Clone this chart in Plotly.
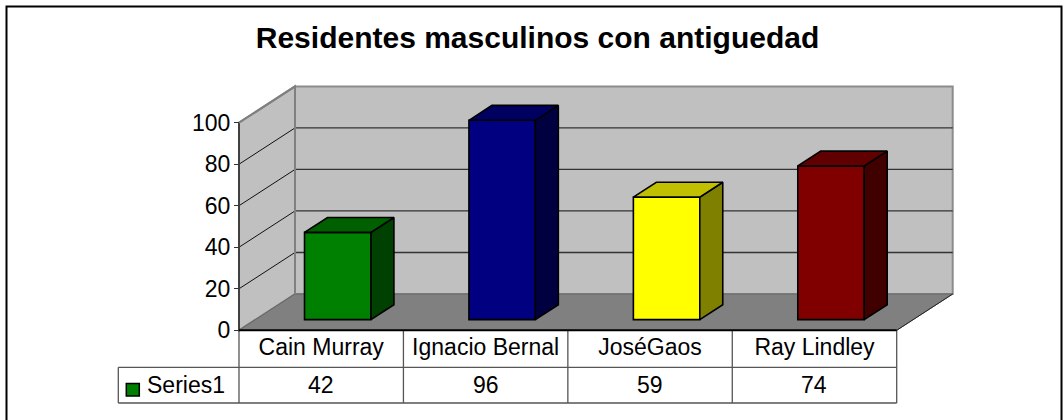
import plotly.graph_objects as go

# Data
categories = ["Cain Murray", "Ignacio Bernal", "JoséGaos", "Ray Lindley"]
values = [42, 96, 59, 74]
series_name = "Series1"
title_text = "Residentes masculinos con antiguedad"
y_ticks = [0, 20, 40, 60, 80, 100]

front_colors = ["#008000", "#000080", "#FFFF00", "#800000"]
top_colors = ["#006000", "#000060", "#C0C000", "#600000"]
side_colors = ["#004000", "#000040", "#808000", "#400000"]

# Geometry
W, H = 1063, 420
X0, XSCALE = 239.0, 164.425      # px of category 0, px per category
Y0, YSCALE = 330.3, 2.076        # px of value 0, px per value unit
DEPTH_X = 56 / XSCALE            # depth projection in category units
DEPTH_Y = 36.3 / YSCALE          # depth projection in value units
BAR_W = 0.404
D0, D1 = 0.295, 0.705
N = len(categories)
YMAX = y_ticks[-1]
ROW1 = -(367.3 - Y0) / YSCALE    # table rows expressed in value units
ROW2 = -(403.0 - Y0) / YSCALE
LEGEND_L = -(239 - 118.3) / XSCALE


def proj(x, v, d):
    return x + d * DEPTH_X, v + d * DEPTH_Y


def poly(points):
    return "M" + " L".join(f"{x},{y}" for x, y in points) + " Z"


shapes = []


def add_poly(points, fill, line, width=1.5):
    shapes.append(dict(type="path", path=poly(points), xref="x", yref="y",
                       fillcolor=fill, line=dict(color=line, width=width), layer="below"))


def add_line(p, q, color, width=1.0, layer="below"):
    shapes.append(dict(type="line", x0=p[0], y0=p[1], x1=q[0], y1=q[1], xref="x", yref="y",
                       line=dict(color=color, width=width), layer=layer))


# Walls and floor
add_poly([proj(0, 0, 1), proj(N, 0, 1), proj(N, YMAX, 1), proj(0, YMAX, 1)], "#C0C0C0", "#8C8C8C", 2)
add_poly([proj(0, 0, 0), proj(0, 0, 1), proj(0, YMAX, 1), proj(0, YMAX, 0)], "#C0C0C0", "#808080", 2)
add_poly([proj(0, 0, 0), proj(N, 0, 0), proj(N, 0, 1), proj(0, 0, 1)], "#808080", "#666666", 1)

# Gridlines
for t in y_ticks[1:-1]:
    add_line(proj(0, t, 0), proj(0, t, 1), "#111111", 1)
    add_line(proj(0, t, 1), proj(N, t, 1), "#333333", 1.3)
add_line(proj(N, 0, 0), proj(N, 0, 1), "#222222", 1)
add_line(proj(0, 0, 0), proj(0, YMAX, 0), "#404040", 2)
add_line(proj(0, YMAX, 0), proj(0, YMAX, 1), "#808080", 2)
add_line(proj(0, 0, 1), proj(0, YMAX, 1), "#808080", 2)

# Data table
TABLE = "#555555"
for i in range(N + 1):
    add_line((i, 0), (i, ROW2), TABLE, 1.3)
add_line((LEGEND_L, ROW1), (N, ROW1), TABLE, 1.3)
add_line((LEGEND_L, ROW2), (N, ROW2), TABLE, 1.3)
add_line((LEGEND_L, ROW1), (LEGEND_L, ROW2), TABLE, 1.3)
add_line((0, 0), (N, 0), "#000000", 2)

# Legend key
shapes.append(dict(type="rect", xref="x", yref="y",
                   x0=LEGEND_L + 8 / XSCALE, x1=LEGEND_L + 21 / XSCALE,
                   y0=ROW2 + 7 / YSCALE, y1=ROW2 + 19.5 / YSCALE,
                   fillcolor=front_colors[0], line=dict(color="#000000", width=1.5)))

# Chart frame (runs past the bottom of the page)
shapes.append(dict(type="rect", xref="paper", yref="paper",
                   x0=6.5 / W, x1=1061.5 / W, y0=-0.02, y1=1 - 6.5 / H,
                   line=dict(color="#000000", width=2), fillcolor="rgba(0,0,0,0)"))

fig = go.Figure()

# Front faces
centers = [i + 0.5 + D0 * DEPTH_X for i in range(N)]
bases = [D0 * DEPTH_Y] * N
fig.add_trace(go.Bar(x=centers, y=values, base=bases, width=BAR_W,
                     marker=dict(color=front_colors, line=dict(color="#000000", width=1.6)),
                     name=series_name, showlegend=False, hoverinfo="skip"))

# Side and top faces
for i, v in enumerate(values):
    c = i + 0.5
    l, r = c - BAR_W / 2, c + BAR_W / 2
    side = [proj(r, 0, D0), proj(r, 0, D1), proj(r, v, D1), proj(r, v, D0), proj(r, 0, D0)]
    top = [proj(l, v, D0), proj(r, v, D0), proj(r, v, D1), proj(l, v, D1), proj(l, v, D0)]
    for pts, col in ((side, side_colors[i]), (top, top_colors[i])):
        fig.add_trace(go.Scatter(x=[p[0] for p in pts], y=[p[1] for p in pts], mode="lines",
                                 fill="toself", fillcolor=col,
                                 line=dict(color="#000000", width=1.6),
                                 showlegend=False, hoverinfo="skip"))

FONT = "Liberation Sans, Arial, sans-serif"
annotations = [dict(x=i + 0.5, y=(ROW1 + ROW2) / 2, xref="x", yref="y", text=str(v),
                    showarrow=False, font=dict(family=FONT, size=23, color="#000000"))
               for i, v in enumerate(values)]
annotations.append(dict(x=LEGEND_L + 27 / XSCALE, y=(ROW1 + ROW2) / 2, xref="x", yref="y",
                        text=series_name, showarrow=False, xanchor="left",
                        font=dict(family=FONT, size=23, color="#000000")))

fig.update_layout(
    width=W, height=H, autosize=False,
    margin=dict(l=0, r=0, t=0, b=0, pad=0),
    paper_bgcolor="#FFFFFF", plot_bgcolor="#FFFFFF",
    showlegend=False, shapes=shapes, annotations=annotations,
    title=dict(text=f"<b>{title_text}</b>", x=537.5 / W, xanchor="center", y=1 - 37.5 / H,
               yanchor="middle", font=dict(family=FONT, size=30, color="#000000")),
    xaxis=dict(range=[-X0 / XSCALE, (W - X0) / XSCALE], anchor="free", position=(H - Y0) / H,
               domain=[0, 1], tickmode="array", tickvals=[i + 0.5 for i in range(N)],
               ticktext=categories, ticks="", ticklabelstandoff=1,
               showgrid=False, zeroline=False, showline=False,
               tickfont=dict(family=FONT, size=23, color="#000000")),
    yaxis=dict(range=[-(H - Y0) / YSCALE, Y0 / YSCALE], anchor="free", position=X0 / W,
               domain=[0, 1], tickmode="array", tickvals=y_ticks, ticks="outside", ticklen=5,
               ticklabelstandoff=-1,
               tickcolor="#333333", tickwidth=1, showgrid=False, zeroline=False, showline=False,
               tickfont=dict(family=FONT, size=23, color="#000000")),
)

fig.write_html("out.html", config=dict(displayModeBar=False),
               post_script="document.body.style.margin='0';document.body.style.overflow='hidden';")
